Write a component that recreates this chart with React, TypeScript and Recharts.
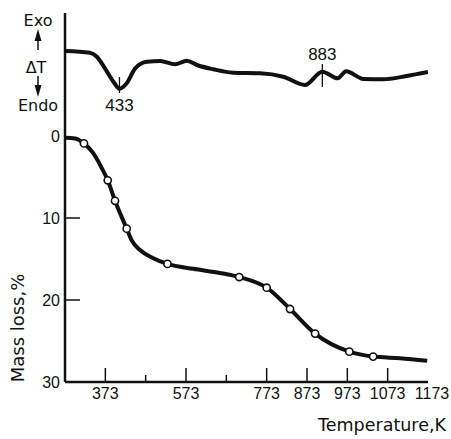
import React from 'react';
import { ComposedChart, Line, XAxis, YAxis, ReferenceLine } from 'recharts';

// Mass-loss curve: measured points (open circles)
const circleTemps = [320, 379, 397, 426, 527, 705, 773, 831, 893, 978, 1037];
const circleLoss = [0.9, 5.4, 7.9, 11.3, 15.6, 17.2, 18.5, 21.1, 24.1, 26.3, 26.9];
// Mass-loss curve: points read along the drawn trace between circles
const traceTemps = [273, 298, 343, 364, 438, 459, 492, 591, 657, 1104, 1171];
const traceLoss = [0.2, 0.3, 2.1, 3.9, 12.7, 13.9, 14.9, 16.2, 16.7, 27.1, 27.4];

// DTA trace (arbitrary ΔT units, up = exo)
const dtaTemps = [273, 335, 352, 372, 393, 408, 426, 447, 476, 509, 546, 575, 600, 641, 690, 757, 814, 868, 911, 949, 970, 1013, 1062, 1120, 1173];
const dtaSignal = [0, -0.17, -0.57, -1.73, -3.07, -3.77, -3.23, -1.73, -1.07, -1.0, -1.33, -0.97, -1.4, -1.83, -2.17, -2.23, -2.57, -3.4, -2.07, -2.73, -2.03, -2.8, -2.83, -2.5, -2.1];

// Peak annotations
const peakLabels = ['433', '883'];
const peakTemps = [408, 911];
const peakTop = [-2.6, -1.3];
const peakBottom = [-4.2, -3.6];
const peakLabelSide = ['bottom', 'top'];

// Axes
const xTicks = [373, 473, 573, 673, 773, 873, 973, 1073, 1173];
const xLabeled = [373, 573, 773, 873, 973, 1073, 1173];
const yTicks = [0, 10, 20, 30];

const circleData = circleTemps.map((t, i) => ({ T: t, loss: circleLoss[i] }));
const traceData = [...circleData, ...traceTemps.map((t, i) => ({ T: t, loss: traceLoss[i] }))].sort((a, b) => a.T - b.T);
const dtaData = dtaTemps.map((t, i) => ({ T: t, dta: dtaSignal[i] }));

const NUM_FONT = "'Liberation Sans', Arial, sans-serif";
const TXT_FONT = "'DejaVu Sans', 'Liberation Sans', sans-serif";
const INK = '#111';
const Y_AXIS_WIDTH = 65;

const XTick = (props: any) => {
  const { x, y, payload } = props;
  const v = payload.value;
  const major = xLabeled.includes(v);
  return (
    <g>
      {v !== 1173 && (
        <line x1={x} x2={x} y1={y} y2={y - (major ? 14 : 7)} stroke={INK} strokeWidth={1.5} />
      )}
      {major && (
        <text x={v === 1173 ? x + 4 : x} y={y + 17} textAnchor="middle" fontSize={16} fontFamily={NUM_FONT} fill={INK}>
          {v}
        </text>
      )}
    </g>
  );
};

const YTick = (props: any) => {
  const { y, payload } = props;
  const v = payload.value;
  const x = Y_AXIS_WIDTH;
  return (
    <g>
      {v !== 0 && v !== 30 && <line x1={x} x2={x + 15} y1={y} y2={y} stroke={INK} strokeWidth={1.5} />}
      <text x={x - 5} y={y + 6} textAnchor="end" fontSize={16} fontFamily={NUM_FONT} fill={INK}>
        {v}
      </text>
    </g>
  );
};

export default function App() {
  return (
    <div style={{ position: 'absolute', left: 0, top: 0, width: 451, height: 439, background: '#fff' }}>
      <ComposedChart width={451} height={439} margin={{ top: 13, right: 23, bottom: 0, left: 0 }}>
        <XAxis
          xAxisId="main"
          dataKey="T"
          type="number"
          domain={[273, 1173]}
          allowDataOverflow
          ticks={xTicks}
          interval={0}
          height={57}
          tickSize={0}
          tickMargin={0}
          tickLine={false}
          tick={<XTick />}
          axisLine={{ stroke: INK, strokeWidth: 2.5 }}
        />
        <XAxis
          xAxisId="top"
          orientation="top"
          dataKey="T"
          type="number"
          domain={[273, 1173]}
          height={0}
          tick={false}
          tickLine={false}
          axisLine={{ stroke: INK, strokeWidth: 1 }}
        />
        <YAxis
          yAxisId="mass"
          type="number"
          domain={[-15, 30]}
          reversed
          allowDataOverflow
          ticks={yTicks}
          interval={0}
          width={Y_AXIS_WIDTH}
          tickSize={0}
          tickMargin={0}
          tickLine={false}
          tick={<YTick />}
          axisLine={{ stroke: INK, strokeWidth: 2.5 }}
        />
        <YAxis yAxisId="dta" orientation="right" width={0} type="number" domain={[-33.1, 3.8]} allowDataOverflow hide />
        <YAxis
          yAxisId="right"
          orientation="right"
          width={0}
          tick={false}
          tickLine={false}
          axisLine={{ stroke: INK, strokeWidth: 1.5 }}
        />
        <Line
          xAxisId="main"
          yAxisId="dta"
          data={dtaData}
          dataKey="dta"
          type="monotone"
          stroke={INK}
          strokeWidth={4}
          dot={false}
          activeDot={false}
          isAnimationActive={false}
        />
        <Line
          xAxisId="main"
          yAxisId="mass"
          data={traceData}
          dataKey="loss"
          type="monotone"
          stroke={INK}
          strokeWidth={4}
          dot={false}
          activeDot={false}
          isAnimationActive={false}
        />
        <Line
          xAxisId="main"
          yAxisId="mass"
          data={circleData}
          dataKey="loss"
          stroke="none"
          dot={{ r: 3.6, fill: '#fff', stroke: INK, strokeWidth: 1.6 }}
          activeDot={false}
          isAnimationActive={false}
        />
        {peakLabels.map((lab, i) => (
          <ReferenceLine
            key={lab}
            xAxisId="main"
            yAxisId="dta"
            segment={[
              { x: peakTemps[i], y: peakTop[i] },
              { x: peakTemps[i], y: peakBottom[i] },
            ]}
            stroke={INK}
            strokeWidth={1.3}
            ifOverflow="visible"
            label={{
              value: lab,
              position: peakLabelSide[i] as any,
              offset: peakLabelSide[i] === 'bottom' ? 6 : 4,
              fill: INK,
              fontSize: 17,
              fontFamily: NUM_FONT,
            }}
          />
        ))}
      </ComposedChart>
      <svg
        width={451}
        height={439}
        style={{ position: 'absolute', left: 0, top: 0, pointerEvents: 'none' }}
      >
        <text x={38} y={26} textAnchor="middle" fontSize={16} fontFamily={TXT_FONT} fill={INK}>Exo</text>
        <line x1={38} x2={38} y1={38} y2={50} stroke={INK} strokeWidth={1.5} />
        <path d="M38 29 L34.5 41 L41.5 41 Z" fill={INK} />
        <text x={36} y={73} textAnchor="middle" fontSize={16} fontFamily={TXT_FONT} fill={INK}>ΔT</text>
        <line x1={38} x2={38} y1={76} y2={88} stroke={INK} strokeWidth={1.5} />
        <path d="M38 97 L34.5 85 L41.5 85 Z" fill={INK} />
        <text x={38} y={111} textAnchor="middle" fontSize={16} fontFamily={TXT_FONT} fill={INK}>Endo</text>
        <text
          x={0}
          y={0}
          transform="translate(24 328) rotate(-90)"
          textAnchor="middle"
          fontSize={18}
          fontFamily={TXT_FONT}
          fill={INK}
        >
          Mass loss,%
        </text>
        <text x={446} y={431} textAnchor="end" fontSize={17.5} fontFamily={TXT_FONT} fill={INK}>
          Temperature,K
        </text>
      </svg>
    </div>
  );
}
